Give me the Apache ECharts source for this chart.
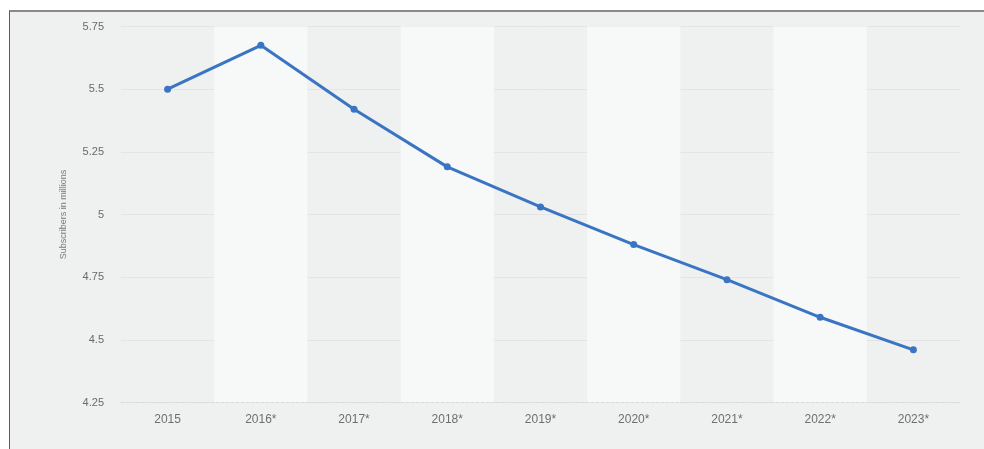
<!DOCTYPE html>
<html>
<head>
<meta charset="utf-8">
<script src="https://cdn.jsdelivr.net/npm/echarts@6/dist/echarts.min.js"></script>
<style>
  html, body { margin: 0; padding: 0; background: #ffffff; }
  #wrap { position: relative; width: 984px; height: 449px; overflow: hidden; }
  #panel {
    position: absolute; left: 9px; top: 10px; width: 990px; height: 460px;
    background: #eff0f0; border-left: 1px solid #5a5a5a; border-top: 2px solid #8a8a8a;
  }
  #chart { position: absolute; left: 0; top: 0; width: 984px; height: 449px; }
</style>
</head>
<body>
<div id="wrap">
  <div id="panel"></div>
  <div id="chart"></div>
</div>
<script>
// Subscribers (millions) per year; starred years are forecasts
const years = ['2015', '2016*', '2017*', '2018*', '2019*', '2020*', '2021*', '2022*', '2023*'];
const subscribers = [5.5, 5.675, 5.42, 5.19, 5.03, 4.88, 4.74, 4.59, 4.46];
const yTicks = [4.25, 4.5, 4.75, 5, 5.25, 5.5, 5.75];
const yName = 'Subscribers in millions';

const chart = echarts.init(document.getElementById('chart'), null, { renderer: 'canvas' });

chart.setOption({
  backgroundColor: 'transparent',
  animation: false,
  grid: { left: 121, right: 24, top: 26.5, height: 376, containLabel: false },
  xAxis: {
    type: 'category',
    data: years,
    boundaryGap: true,
    axisLine: { show: true, lineStyle: { color: '#d9dbdb', width: 1, type: [3, 2] } },
    axisTick: { show: false },
    axisLabel: { color: '#6f6f6f', fontSize: 12, fontFamily: 'Liberation Sans, Arial, sans-serif', margin: 11 },
    splitLine: { show: false },
    splitArea: { show: true, areaStyle: { color: ['rgba(0,0,0,0)', '#f7f8f8'] } }
  },
  yAxis: {
    type: 'value',
    min: yTicks[0],
    max: yTicks[yTicks.length - 1],
    interval: 0.25,
    name: yName,
    nameLocation: 'middle',
    nameGap: 53,
    nameTextStyle: { color: '#7a7a7a', fontSize: 9, fontFamily: 'Liberation Sans, Arial, sans-serif' },
    axisLine: { show: false },
    axisTick: { show: false },
    axisLabel: {
      color: '#6a6a6a', fontSize: 11, margin: 17,
      fontFamily: 'Liberation Sans, Arial, sans-serif',
      formatter: v => String(+v.toFixed(2))
    },
    splitLine: { show: true, lineStyle: { color: '#e3e5e5', width: 1 } }
  },
  series: [{
    type: 'line',
    data: subscribers,
    symbol: 'circle',
    symbolSize: 7,
    showSymbol: true,
    lineStyle: { color: '#3a75c4', width: 3 },
    itemStyle: { color: '#3a75c4' },
    z: 5
  }]
});
</script>
</body>
</html>
